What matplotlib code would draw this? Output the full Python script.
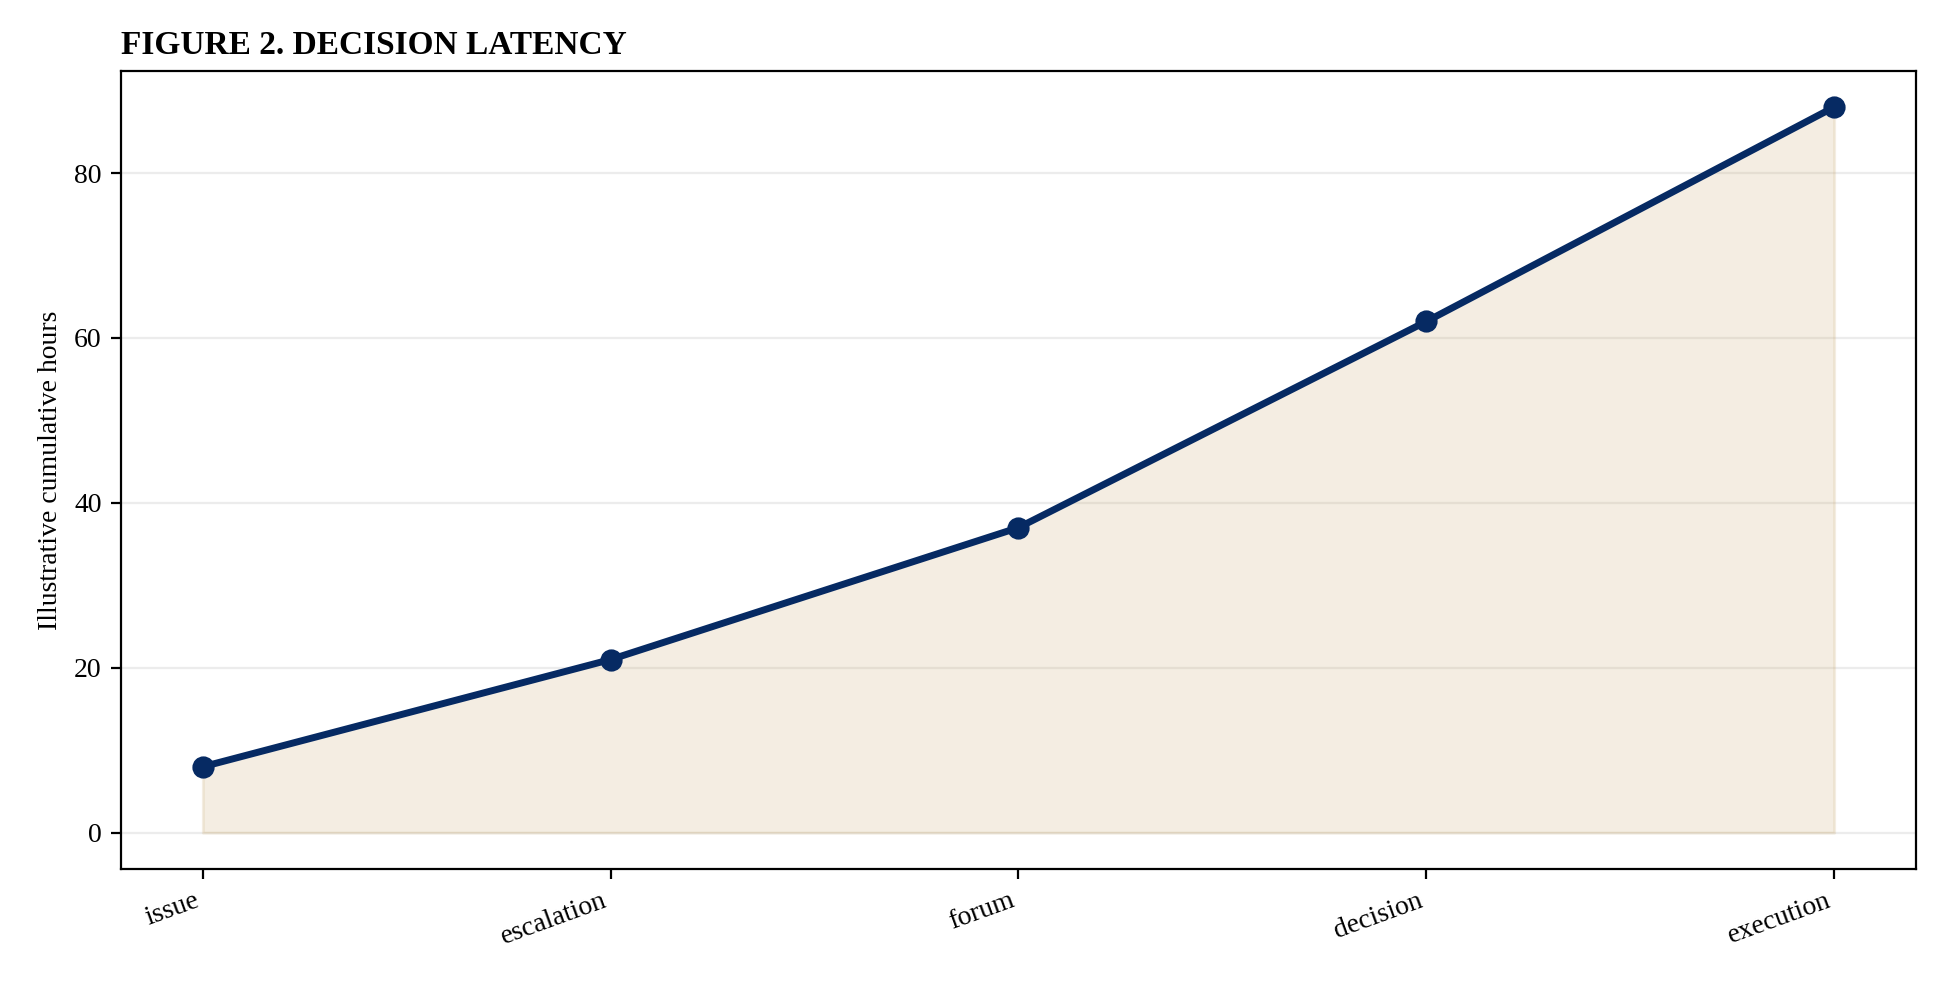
import matplotlib
matplotlib.use('Agg')
import matplotlib.pyplot as plt

stages = ['issue', 'escalation', 'forum', 'decision', 'execution']
hours = [8, 21, 37, 62, 88]

plt.rcParams['font.family'] = ['Liberation Serif', 'DejaVu Serif']

fig = plt.figure(figsize=(9.7, 4.915), dpi=200)
ax = fig.add_axes([0.0625, 0.116, 0.925, 0.812])
x = list(range(len(stages)))
ax.fill_between(x, hours, 0, color='#c9a96e', alpha=0.2)
ax.plot(x, hours, color='#062a63', linewidth=2.5, marker='o', markersize=7)
ax.set_xticks(x)
ax.set_xticklabels(stages, rotation=20, ha='right')
ax.set_ylabel('Illustrative cumulative hours')
ax.set_yticks([0, 20, 40, 60, 80])
ax.grid(axis='y', color='#ececec', linewidth=0.8)
ax.set_axisbelow(True)
ax.set_xlim(-0.2, 4.2)
ax.set_title('FIGURE 2. DECISION LATENCY', loc='left', fontweight='bold', fontsize=12)
fig.savefig('out.png', dpi=200)
